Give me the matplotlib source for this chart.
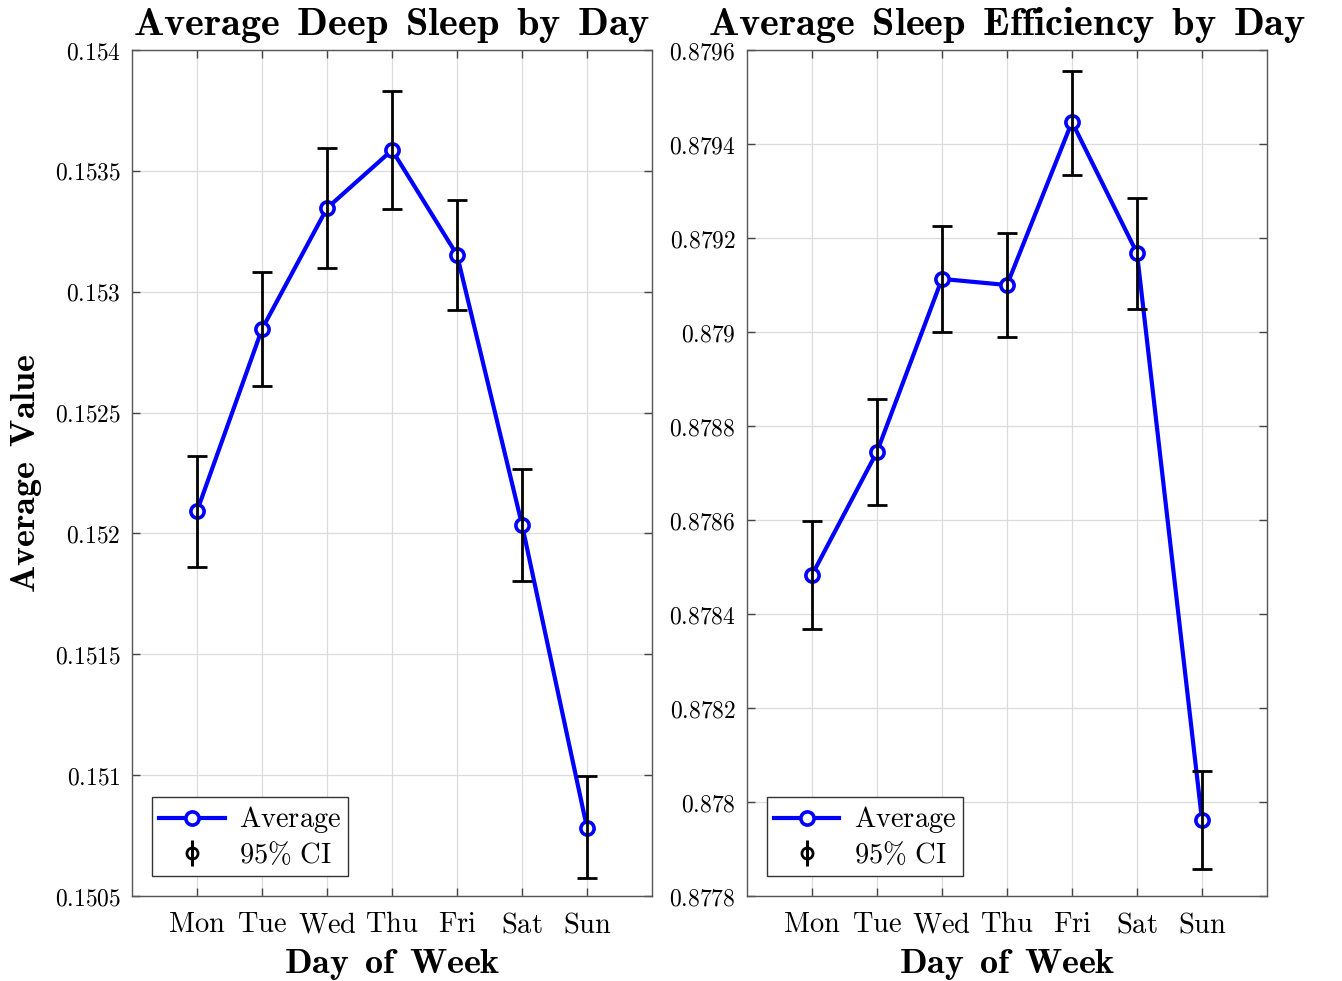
import matplotlib
matplotlib.use("Agg")
import matplotlib.pyplot as plt
from matplotlib.lines import Line2D

plt.rcParams['mathtext.fontset'] = 'cm'
plt.rcParams['font.family'] = ['DejaVu Serif']

days = ['Mon', 'Tue', 'Wed', 'Thu', 'Fri', 'Sat', 'Sun']

deep_avg = [0.152093, 0.152846, 0.153346, 0.153586, 0.153152, 0.152035, 0.150781]
deep_hi = [0.152320, 0.153082, 0.153595, 0.153830, 0.153379, 0.152267, 0.150996]
deep_lo = [0.151861, 0.152610, 0.153098, 0.153342, 0.152924, 0.151803, 0.150574]
deep_ticks = [0.1505, 0.151, 0.1515, 0.152, 0.1525, 0.153, 0.1535, 0.154]
deep_ticklabels = ['0.1505', '0.151', '0.1515', '0.152', '0.1525', '0.153', '0.1535', '0.154']

eff_avg = [0.878483, 0.878745, 0.879113, 0.879100, 0.879447, 0.879168, 0.877962]
eff_hi = [0.878598, 0.878857, 0.879226, 0.879211, 0.879555, 0.879285, 0.878066]
eff_lo = [0.878368, 0.878632, 0.879000, 0.878989, 0.879334, 0.879049, 0.877857]
eff_ticks = [0.8778, 0.878, 0.8782, 0.8784, 0.8786, 0.8788, 0.879, 0.8792, 0.8794, 0.8796]
eff_ticklabels = ['0.8778', '0.878', '0.8782', '0.8784', '0.8786', '0.8788', '0.879', '0.8792', '0.8794', '0.8796']

titles = ['Average Deep Sleep by Day', 'Average Sleep Efficiency by Day']

fig = plt.figure(figsize=(13.42, 9.81), dpi=100)
ax1 = fig.add_axes([0.0984, 0.0866, 0.3875, 0.8624])
ax2 = fig.add_axes([0.5566, 0.0866, 0.3875, 0.8624])


def bold(s, space=r'\ '):
    return r'$\mathbf{' + s.replace(' ', space) + '}$'


def rm(s):
    return r'$\mathrm{' + s.replace(' ', r'\ ').replace('%', r'\%') + '}$'


def draw(ax, avg, hi, lo, ticks, ticklabels, title, ylim, ylabel):
    x = list(range(1, len(days) + 1))
    err_lo = [a - l for a, l in zip(avg, lo)]
    err_hi = [h - a for h, a in zip(hi, avg)]
    ln, = ax.plot(x, avg, color='#0000ff', lw=3.0, marker='o', ms=9.5,
                  mfc='white', mec='#0000ff', mew=2.6, zorder=3, label=rm('Average'))
    ax.errorbar(x, avg, yerr=[err_lo, err_hi], fmt='none', ecolor='black',
                elinewidth=2.0, capsize=7, capthick=2.0, zorder=4)
    ci_bar = Line2D([], [], linestyle='none', marker='|', color='black', ms=19, mew=2.2)
    ci_ring = Line2D([], [], linestyle='none', marker='o', mfc='none', mec='black', ms=8, mew=2.0)
    ax.set_xlim(0, 8)
    ax.set_ylim(*ylim)
    ax.set_xticks(x)
    ax.set_xticklabels([rm(d) for d in days], fontsize=20.5)
    ax.set_yticks(ticks)
    ax.set_yticklabels([rm(t) for t in ticklabels], fontsize=17)
    ax.grid(True, color='#dcdcdc', lw=0.9)
    ax.set_axisbelow(True)
    ax.tick_params(direction='in', top=True, right=True, length=6, width=1, color='#444444', pad=8)
    ax.tick_params(axis='x', pad=11)
    for sp in ax.spines.values():
        sp.set_color('#555555')
        sp.set_linewidth(1.0)
    ax.set_title(bold(title, r'\ \,'), fontsize=29, pad=11)
    ax.set_xlabel(bold('Day of Week', r'\ \,'), fontsize=26, labelpad=6)
    if ylabel:
        ax.set_ylabel(bold(ylabel, r'\ \,'), fontsize=26, labelpad=8)
    leg = ax.legend(handles=[ln, (ci_bar, ci_ring)], labels=[rm('Average'), rm('95% CI')],
                    loc='lower left', fontsize=20.5, frameon=True,
                    fancybox=False, edgecolor='#333333', framealpha=1,
                    borderaxespad=0.7, handlelength=2.3, borderpad=0.25, labelspacing=0.2,
                    handletextpad=0.5)
    leg.get_frame().set_linewidth(1.0)


draw(ax1, deep_avg, deep_hi, deep_lo, deep_ticks, deep_ticklabels, titles[0], (0.1505, 0.154), 'Average Value')
draw(ax2, eff_avg, eff_hi, eff_lo, eff_ticks, eff_ticklabels, titles[1], (0.8778, 0.8796), None)

fig.savefig('out.png', dpi=100)
